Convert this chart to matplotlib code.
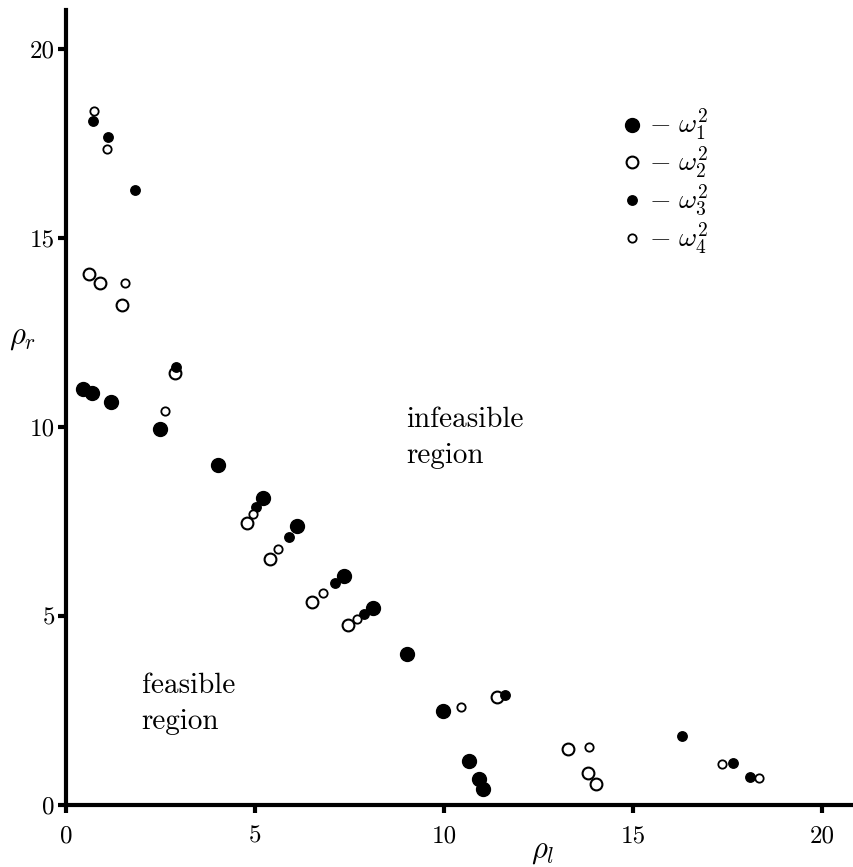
import matplotlib
matplotlib.use("Agg")
import matplotlib.pyplot as plt

plt.rcParams['font.family'] = ['cmr10']
plt.rcParams['mathtext.fontset'] = 'cm'
plt.rcParams['axes.unicode_minus'] = False

# omega_1^2 (large filled)
w1_x = [0.44, 0.70, 1.19, 2.49, 4.01, 5.20, 6.10, 7.35, 8.13, 9.01, 9.98, 10.67, 10.93, 11.04]
w1_y = [11.00, 10.91, 10.67, 9.95, 9.00, 8.11, 7.39, 6.06, 5.20, 3.99, 2.49, 1.16, 0.68, 0.42]
# omega_2^2 (large open)
w2_x = [0.60, 0.90, 1.47, 2.88, 4.78, 5.40, 6.50, 7.45, 11.41, 13.27, 13.80, 14.02]
w2_y = [14.04, 13.80, 13.23, 11.42, 7.45, 6.50, 5.38, 4.76, 2.87, 1.49, 0.85, 0.56]
# omega_3^2 (small filled)
w3_x = [0.72, 1.12, 1.83, 2.90, 5.04, 5.90, 7.13, 7.88, 11.61, 16.30, 17.66, 18.11]
w3_y = [18.10, 17.66, 16.27, 11.58, 7.88, 7.10, 5.88, 5.04, 2.90, 1.83, 1.10, 0.73]
# omega_4^2 (small open)
w4_x = [0.74, 1.09, 1.55, 2.63, 4.96, 5.62, 6.79, 7.71, 10.46, 13.83, 17.36, 18.34]
w4_y = [18.36, 17.35, 13.82, 10.42, 7.70, 6.76, 5.60, 4.91, 2.60, 1.54, 1.09, 0.72]

ticks = [0, 5, 10, 15, 20]
legend_labels = [r'$-\ \omega_1^2$', r'$-\ \omega_2^2$', r'$-\ \omega_3^2$', r'$-\ \omega_4^2$']

fig = plt.figure(figsize=(8.54, 8.67), dpi=100)
ax = fig.add_axes([66/854, 62/867, 788/854, 795/867])

styles = [dict(ms=10, mfc='black', mew=1.0), dict(ms=8.5, mfc='white', mew=1.5),
          dict(ms=6.8, mfc='black', mew=1.0), dict(ms=6.0, mfc='white', mew=1.3)]
series = [(w1_x, w1_y), (w2_x, w2_y), (w3_x, w3_y), (w4_x, w4_y)]
for (xs, ys), st in zip(series, styles):
    ax.plot(xs, ys, 'o', mec='black', ls='none', **st)

# legend drawn by hand, top right
leg_y = [18.0, 17.0, 16.0, 15.0]
for yy, st, lab in zip(leg_y, styles, legend_labels):
    ax.plot([14.97], [yy], 'o', mec='black', ls='none', **st)
    ax.text(15.42, yy, lab, fontsize=20, va='center', ha='left')

ax.text(9.0, 10.0, 'infeasible', fontsize=21, va='baseline', ha='left')
ax.text(9.0, 9.05, 'region', fontsize=21, va='baseline', ha='left')
ax.text(2.0, 2.96, 'feasible', fontsize=21, va='baseline', ha='left')
ax.text(2.0, 2.0, 'region', fontsize=21, va='baseline', ha='left')

ax.set_xlim(0, 20.85)
ax.set_ylim(0, 21.03)
ax.set_xticks(ticks)
ax.set_yticks(ticks)
ax.set_xticklabels([str(t) for t in ticks])
ax.set_yticklabels([str(t) for t in ticks])
ax.tick_params(axis='x', direction='out', length=5.5, width=3, labelsize=18, pad=9)
ax.tick_params(axis='y', direction='out', length=6, width=3, labelsize=18, pad=2)

for s in ['top', 'right']:
    ax.spines[s].set_visible(False)
for s in ['left', 'bottom']:
    ax.spines[s].set_linewidth(3)

ax.set_xlabel(r'$\rho_l$', fontsize=22, va='top')
ax.xaxis.set_label_coords(0.605, -0.042)
ax.set_ylabel(r'$\rho_r$', fontsize=22, rotation=0, va='center', ha='center')
ax.yaxis.set_label_coords(-0.0546, 0.587)

fig.savefig('out.png', dpi=100)
